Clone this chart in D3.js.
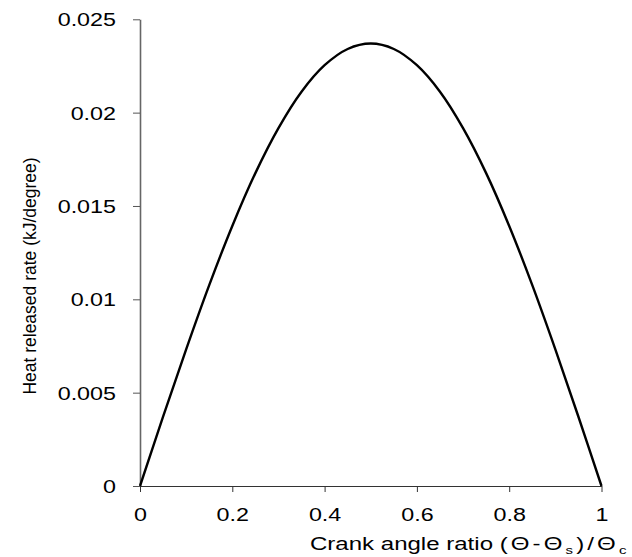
<!DOCTYPE html>
<html>
<head>
<meta charset="utf-8">
<script src="https://cdn.jsdelivr.net/npm/d3@7"></script>
<style>
  html, body { margin: 0; padding: 0; background: #fff; }
  svg { display: block; }
  text { font-family: "Liberation Sans", Arial, sans-serif; fill: #000; }
</style>
</head>
<body>
<svg id="chart" width="632" height="557"></svg>
<script>
// Crank angle ratio (x) and heat released rate in kJ/degree (y)
const crankRatio = [0, 0.05, 0.10, 0.15, 0.20, 0.25, 0.30, 0.35, 0.40, 0.45, 0.50,
                    0.55, 0.60, 0.65, 0.70, 0.75, 0.80, 0.85, 0.90, 0.95, 1.00];
const heatRate   = [0, 0.00371, 0.00732, 0.01076, 0.01393, 0.01676, 0.01917, 0.02112, 0.02254, 0.02341, 0.02370,
                    0.02341, 0.02254, 0.02112, 0.01917, 0.01676, 0.01393, 0.01076, 0.00732, 0.00371, 0];
const xTicks = [0, 0.2, 0.4, 0.6, 0.8, 1];
const xTickLabels = ["0", "0.2", "0.4", "0.6", "0.8", "1"];
const yTicks = [0, 0.005, 0.01, 0.015, 0.02, 0.025];
const yTickLabels = ["0", "0.005", "0.01", "0.015", "0.02", "0.025"];
const xTitleMain = "Crank angle ratio ";
const yTitle = "Heat released rate (kJ/degree)";

const svg = d3.select("#chart");
const x = d3.scaleLinear().domain([0, 1]).range([140, 601.5]);
const y = d3.scaleLinear().domain([0, 0.025]).range([486, 19.3]);
const sx = 1.26;

// Y axis
const yAxis = d3.axisLeft(y).tickValues(yTicks).tickFormat((d, i) => yTickLabels[i]).tickSize(7).tickSizeOuter(0);
const gy = svg.append("g").attr("transform", "translate(140,0)").call(yAxis);
gy.attr("font-size", null).attr("font-family", null);
gy.select(".domain").attr("stroke", "#666").attr("stroke-width", 1.6);
gy.selectAll(".tick line").attr("stroke", "#555").attr("stroke-width", 1);
gy.selectAll(".tick text")
  .attr("x", 0).attr("dy", "0.36em")
  .attr("transform", `translate(-24,0) scale(${sx},1)`)
  .style("font-size", "18.5px").style("fill", "#000");

// X axis
const xAxis = d3.axisBottom(x).tickValues(xTicks).tickFormat((d, i) => xTickLabels[i]).tickSize(6).tickSizeOuter(0);
const gx = svg.append("g").attr("transform", "translate(0,486)").call(xAxis);
gx.attr("font-size", null).attr("font-family", null);
gx.select(".domain").attr("stroke", "#333").attr("stroke-width", 1);
gx.selectAll(".tick line").attr("stroke", "#333").attr("stroke-width", 1);
gx.selectAll(".tick text")
  .attr("y", 0).attr("dy", 0)
  .attr("transform", `translate(0,34.5) scale(${sx},1)`)
  .style("font-size", "18.5px").style("fill", "#000");

// Curve
const pts = crankRatio.map((c, i) => [c, heatRate[i]]);
svg.append("path")
  .datum(pts)
  .attr("fill", "none")
  .attr("stroke", "#000")
  .attr("stroke-width", 2.4)
  .attr("d", d3.line().x(d => x(d[0])).y(d => y(d[1])).curve(d3.curveCatmullRom.alpha(0.5)));

// X title
const xt = svg.append("text")
  .attr("transform", `translate(310,550) scale(1.3,1)`)
  .style("font-size", "18.5px");
xt.append("tspan").text(xTitleMain);
const tail = xt.append("tspan").style("letter-spacing", "2.4px");
tail.append("tspan").text("(Θ-Θ");
tail.append("tspan").attr("dy", 4).style("font-size", "11.5px").text("s");
tail.append("tspan").attr("dy", -4).text(")/Θ");
tail.append("tspan").attr("dy", 4).style("font-size", "11.5px").style("letter-spacing", "0px").text("c");

// Y title
svg.append("text")
  .attr("transform", "translate(36,276) rotate(-90) scale(1,1.08)")
  .attr("text-anchor", "middle")
  .style("font-size", "17.5px")
  .text(yTitle);
</script>
</body>
</html>
